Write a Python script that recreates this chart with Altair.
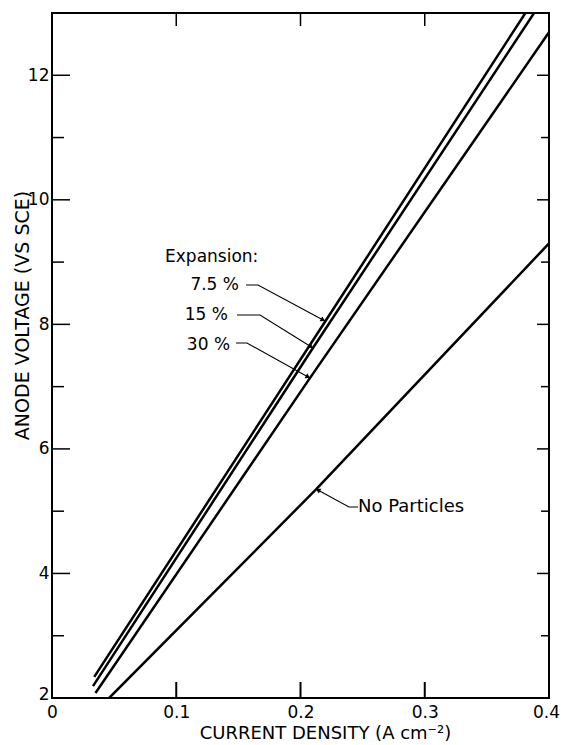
import math
import altair as alt
import pandas as pd

# ---- data ----
series_names = ["7.5%", "15%", "30%", "No Particles"]
x_75 = [0.034, 0.220, 0.381]
y_75 = [2.34, 8.05, 13.0]
x_15 = [0.033, 0.210, 0.388]
y_15 = [2.19, 7.62, 13.0]
x_30 = [0.035, 0.2077, 0.400]
y_30 = [2.08, 7.14, 12.69]
x_np = [0.046, 0.2125, 0.400]
y_np = [2.00, 5.35, 9.30]

x_ticks = [0.0, 0.1, 0.2, 0.3, 0.4]
y_major = [2, 4, 6, 8, 10, 12]
y_minor = [3, 5, 7, 9, 11]
x_inner = [0.1, 0.2, 0.3]

# annotation labels and leader lines (data coordinates)
ann_text = ["Expansion:", "7.5 %", "15 %", "30 %", "No Particles"]
ann_x = [0.091, 0.1505, 0.1416, 0.1433, 0.2463]
ann_y = [9.08, 8.63, 8.15, 7.67, 5.07]
ann_align = ["left", "right", "right", "right", "left"]
ann_size = [17, 17, 17, 17, 18]
lead_x = [[0.1561, 0.1658, 0.2197], [0.1489, 0.1674, 0.2101],
          [0.1481, 0.1569, 0.2076], [0.2463, 0.2390, 0.2125]]
lead_y = [[8.632, 8.632, 8.054], [8.151, 8.151, 7.621],
          [7.701, 7.701, 7.139], [5.067, 5.067, 5.356]]

# ---- layout ----
W, H = 497, 685
X0, X1, Y0, Y1 = 0.0, 0.4, 2.0, 13.0
pxx = W / (X1 - X0)
pxy = H / (Y1 - Y0)
FONT = "DejaVu Sans"

rows = []
for name, xs, ys in zip(series_names, [x_75, x_15, x_30, x_np], [y_75, y_15, y_30, y_np]):
    for i, (a, b) in enumerate(zip(xs, ys)):
        rows.append({"s": name, "x": a, "y": b, "o": i})
df_lines = pd.DataFrame(rows)

lrows = []
arrows = []
for k, (lx, ly) in enumerate(zip(lead_x, lead_y)):
    for i, (a, b) in enumerate(zip(lx, ly)):
        lrows.append({"k": k, "x": a, "y": b, "o": i})
    dxp = (lx[2] - lx[1]) * pxx
    dyp = -(ly[2] - ly[1]) * pxy
    L = math.hypot(dxp, dyp)
    ang = math.degrees(math.atan2(dxp, -dyp)) % 360
    back = 3.0
    arrows.append({"x": lx[2] - dxp / L * back / pxx,
                   "y": ly[2] + dyp / L * back / pxy,
                   "ang": ang})
df_lead = pd.DataFrame(lrows)
df_arrow = pd.DataFrame(arrows)
df_text = pd.DataFrame({"t": ann_text, "x": ann_x, "y": ann_y, "a": ann_align, "fs": ann_size})

xs_ = alt.Scale(domain=[X0, X1], nice=False, zero=False)
ys_ = alt.Scale(domain=[Y0, Y1], nice=False, zero=False)

x_axis = alt.Axis(values=x_ticks, labelExpr="datum.value == 0 ? '0' : format(datum.value, '.1f')",
                  domain=False, ticks=False, grid=False, labelPadding=6, labelFontSize=17,
                  labelFont=FONT, labelColor="black", labelFlush=False,
                  labelOffset={"condition": {"test": "datum.value >= 0.39", "value": -3},
                               "value": 0},
                  title="CURRENT DENSITY (A cm⁻²)", titleFont=FONT, titleFontSize=18,
                  titleFontWeight="normal", titleColor="black", titleX=273, titleY=35,
                  titleBaseline="middle", titleAlign="center")
y_axis = alt.Axis(values=y_major, format="d", domain=False, ticks=False, grid=False,
                  labelPadding=3, labelFontSize=17, labelFont=FONT, labelColor="black",
                  labelFlush=False,
                  labelOffset={"condition": {"test": "datum.value <= 2", "value": -4},
                               "value": 0},
                  title="ANODE VOLTAGE (VS SCE)", titleFont=FONT, titleFontSize=19,
                  titleFontWeight="normal", titleColor="black", titleX=-30, titleY=302,
                  titleBaseline="middle", titleAlign="center", titleAngle=270)

X = alt.X("x:Q", scale=xs_, axis=x_axis)
Y = alt.Y("y:Q", scale=ys_, axis=y_axis)

lines = alt.Chart(df_lines).mark_line(color="black", strokeWidth=2.5, clip=True).encode(
    x=X, y=Y, detail="s:N", order="o:Q")

leaders = alt.Chart(df_lead).mark_line(color="black", strokeWidth=1.1).encode(
    x=X, y=Y, detail="k:N", order="o:Q")

heads = alt.Chart(df_arrow).mark_point(shape="triangle", filled=True, color="black",
                                       opacity=1, size=30).encode(
    x=X, y=Y, angle=alt.Angle("ang:Q", scale=None))

txt_l = alt.Chart(df_text[df_text.a == "left"]).mark_text(
    align="left", baseline="middle", font=FONT, color="black").encode(
    x=X, y=Y, text="t:N", size=alt.Size("fs:Q", scale=None))
txt_r = alt.Chart(df_text[df_text.a == "right"]).mark_text(
    align="right", baseline="middle", font=FONT, color="black").encode(
    x=X, y=Y, text="t:N", size=alt.Size("fs:Q", scale=None))

# inward tick marks on all four sides
df_xt = pd.DataFrame({"x": x_inner})
bot_ticks = alt.Chart(df_xt).mark_rule(color="black", strokeWidth=2).encode(
    x=X, y=alt.value(H), y2=alt.value(H - 16))
top_ticks = alt.Chart(df_xt).mark_rule(color="black", strokeWidth=1.5).encode(
    x=X, y=alt.value(0), y2=alt.value(13))
df_ymaj = pd.DataFrame({"y": y_major[1:]})
df_ymin = pd.DataFrame({"y": y_minor})
left_maj = alt.Chart(df_ymaj).mark_rule(color="black", strokeWidth=1.5).encode(
    y=Y, x=alt.value(0), x2=alt.value(18))
left_min = alt.Chart(df_ymin).mark_rule(color="black", strokeWidth=1.5).encode(
    y=Y, x=alt.value(0), x2=alt.value(12))
right_maj = alt.Chart(df_ymaj).mark_rule(color="black", strokeWidth=1.5).encode(
    y=Y, x=alt.value(W), x2=alt.value(W - 12))
right_min = alt.Chart(df_ymin).mark_rule(color="black", strokeWidth=1.5).encode(
    y=Y, x=alt.value(W), x2=alt.value(W - 8))

chart = alt.layer(lines, leaders, heads, txt_l, txt_r, bot_ticks, top_ticks,
                  left_maj, left_min, right_maj, right_min).properties(
    width=W, height=H,
    autosize=alt.AutoSizeParams(type="none"),
    padding={"left": 52, "top": 13, "right": 12, "bottom": 47},
    background="white",
).configure_view(stroke="black", strokeWidth=2)

chart.save("out.html", embed_options={"renderer": "svg", "actions": False})
